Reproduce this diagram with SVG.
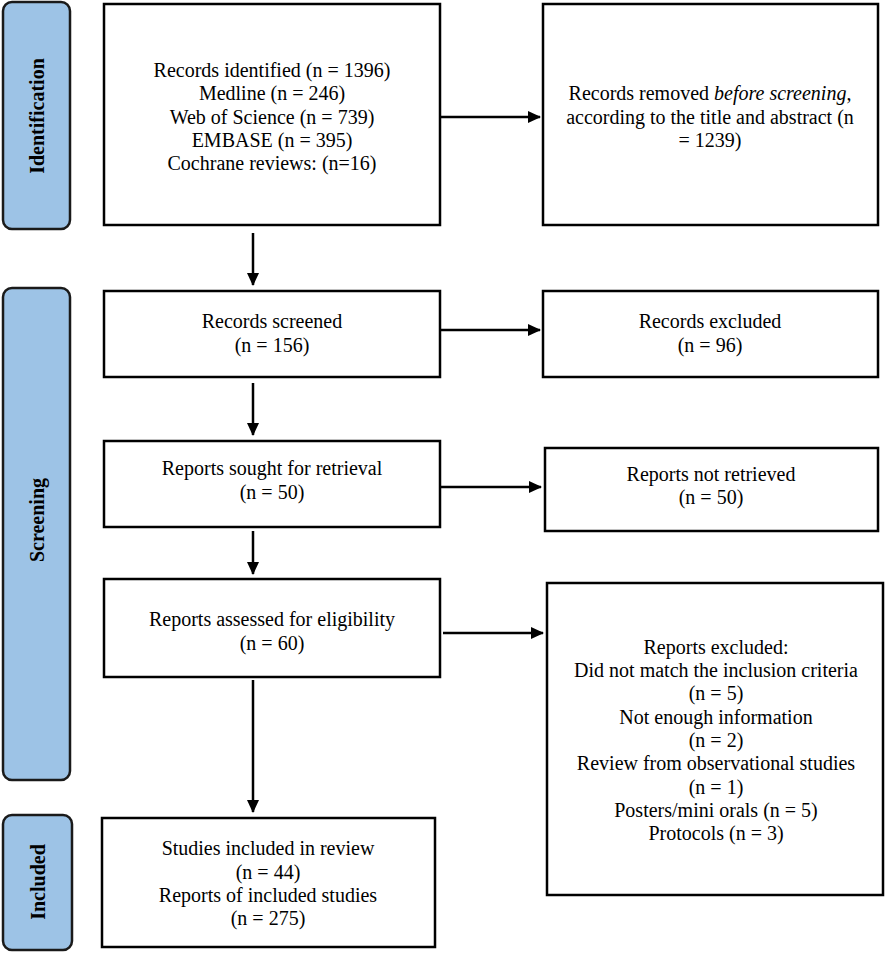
<svg xmlns="http://www.w3.org/2000/svg" width="886" height="954" viewBox="0 0 886 954">
<defs>
<marker id="ah" markerWidth="13" markerHeight="12" refX="12" refY="6" orient="auto" markerUnits="userSpaceOnUse">
<path d="M0,0 L13,6 L0,12 Z" fill="#000"/>
</marker>
<style>
.box{fill:#fff;stroke:#000;stroke-width:2.5}
.pill{fill:#9dc3e6;stroke:#1a1a1a;stroke-width:2.5}
.t{font-family:"Liberation Serif","Times New Roman",serif;font-size:20px;fill:#000;text-anchor:middle}
.side{font-family:"Liberation Serif","Times New Roman",serif;font-size:20px;font-weight:bold;fill:#000;text-anchor:middle}
.c{stroke:#000;stroke-width:2.5;fill:none;marker-end:url(#ah)}
</style>
</defs>
<rect width="886" height="954" fill="#fff"/>
<g id="phase-identification">
<rect class="pill" x="3" y="2" width="67" height="227" rx="9"/>
<text class="side" transform="translate(44,116) rotate(-90)">Identification</text>
</g>
<g id="phase-screening">
<rect class="pill" x="3" y="288" width="67" height="492" rx="9"/>
<text class="side" transform="translate(44,520) rotate(-90)">Screening</text>
</g>
<g id="phase-included">
<rect class="pill" x="3" y="815" width="69" height="135" rx="9"/>
<text class="side" transform="translate(45,882) rotate(-90)">Included</text>
</g>
<g id="records-identified">
<rect class="box" x="104" y="4" width="336" height="221"/>
<text class="t" x="272" y="77">Records identified (n = 1396)</text>
<text class="t" x="272" y="100">Medline (n = 246)</text>
<text class="t" x="272" y="124">Web of Science (n = 739)</text>
<text class="t" x="272" y="147">EMBASE (n = 395)</text>
<text class="t" x="272" y="170">Cochrane reviews: (n=16)</text>
</g>
<g id="records-removed">
<rect class="box" x="543" y="4" width="335" height="221"/>
<text class="t" x="710" y="100">Records removed <tspan font-style="italic">before screening</tspan>,</text>
<text class="t" x="710" y="124">according to the title and abstract (n</text>
<text class="t" x="710" y="147">= 1239)</text>
</g>
<g id="records-screened">
<rect class="box" x="104" y="291" width="336" height="86"/>
<text class="t" x="272" y="328">Records screened</text>
<text class="t" x="272" y="352">(n = 156)</text>
</g>
<g id="records-excluded">
<rect class="box" x="543" y="291" width="335" height="86"/>
<text class="t" x="710" y="328">Records excluded</text>
<text class="t" x="710" y="352">(n = 96)</text>
</g>
<g id="reports-sought">
<rect class="box" x="104" y="441" width="336" height="86"/>
<text class="t" x="272" y="475">Reports sought for retrieval</text>
<text class="t" x="272" y="499">(n = 50)</text>
</g>
<g id="reports-not-retrieved">
<rect class="box" x="545" y="448" width="333" height="83"/>
<text class="t" x="711" y="481">Reports not retrieved</text>
<text class="t" x="711" y="504">(n = 50)</text>
</g>
<g id="reports-assessed">
<rect class="box" x="104" y="579" width="336" height="98"/>
<text class="t" x="272" y="626">Reports assessed for eligibility</text>
<text class="t" x="272" y="650">(n = 60)</text>
</g>
<g id="reports-excluded">
<rect class="box" x="547" y="583" width="336" height="312"/>
<text class="t" x="716" y="654">Reports excluded:</text>
<text class="t" x="716" y="677">Did not match the inclusion criteria</text>
<text class="t" x="716" y="700">(n = 5)</text>
<text class="t" x="716" y="724">Not enough information</text>
<text class="t" x="716" y="747">(n = 2)</text>
<text class="t" x="716" y="770">Review from observational studies</text>
<text class="t" x="716" y="794">(n = 1)</text>
<text class="t" x="716" y="817">Posters/mini orals (n = 5)</text>
<text class="t" x="716" y="840">Protocols (n = 3)</text>
</g>
<g id="studies-included">
<rect class="box" x="102" y="818" width="333" height="129"/>
<text class="t" x="268" y="855">Studies included in review</text>
<text class="t" x="268" y="879">(n = 44)</text>
<text class="t" x="268" y="902">Reports of included studies</text>
<text class="t" x="268" y="925">(n = 275)</text>
</g>
<g id="connectors">
<line class="c" x1="440" y1="117" x2="540" y2="117"/>
<line class="c" x1="253" y1="233" x2="253" y2="285"/>
<line class="c" x1="440" y1="330" x2="540" y2="330"/>
<line class="c" x1="253" y1="383" x2="253" y2="435"/>
<line class="c" x1="440" y1="487" x2="541" y2="487"/>
<line class="c" x1="253" y1="531" x2="253" y2="574"/>
<line class="c" x1="443" y1="633" x2="543" y2="633"/>
<line class="c" x1="253" y1="680" x2="253" y2="812"/>
</g>
</svg>
